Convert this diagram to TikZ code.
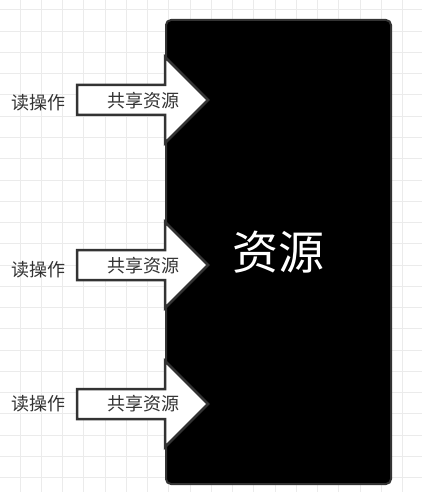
\documentclass[tikz,border=0pt]{standalone}
\usepackage{fontspec}
\newfontfamily\cjk{Noto Sans CJK SC}
\usetikzlibrary{positioning}
\definecolor{gridgray}{HTML}{EBEBEB}
\definecolor{linegray}{HTML}{333333}

\begin{document}
\begin{tikzpicture}[x=1pt,y=-1pt,
        share arrow/.style={draw=linegray,line width=2.5pt,fill=white},
        share text/.style={font=\cjk\fontsize{18}{20}\selectfont,text=linegray,inner sep=0pt},
        ]
    \useasboundingbox (0,0) rectangle (422,492);

    % background grid
    \foreach \x in {-1.25,20,...,430}
        \draw[gridgray,line width=1pt] (\x,0) -- (\x,492);
    \foreach \y in {10,31.25,...,500}
        \draw[gridgray,line width=1pt] (0,\y) -- (422,\y);

    % the resource
    \node[draw=linegray,fill=black,line width=2pt,rounded corners=5pt,
          minimum width=225,minimum height=464,anchor=north west,
          text=white,font=\cjk\fontsize{46}{50}\selectfont] (res) at (165,19) {资源};

    % 1st read operation
    \begin{scope}[shift={(0,100)}]
        \draw[share arrow] (77,-15) -- (165,-15) -- (165,-43) -- (208,0)
            -- (165,43) -- (165,15) -- (77,15) -- cycle;
        \node[share text] (share1) at (143,1) {共享资源};
        \node[share text] (read1) at (38,3) {读操作};
    \end{scope}

    % 2nd read operation
    \begin{scope}[shift={(0,265)}]
        \draw[share arrow] (77,-15) -- (165,-15) -- (165,-43) -- (208,0)
            -- (165,43) -- (165,15) -- (77,15) -- cycle;
        \node[share text] (share2) at (143,1) {共享资源};
        \node[share text] (read2) at (38,5) {读操作};
    \end{scope}

    % 3rd read operation
    \begin{scope}[shift={(0,404)}]
        \draw[share arrow] (77,-15) -- (165,-15) -- (165,-43) -- (208,0)
            -- (165,43) -- (165,15) -- (77,15) -- cycle;
        \node[share text] (share3) at (143,0) {共享资源};
        \node[share text] (read3) at (38,0) {读操作};
    \end{scope}

\end{tikzpicture}
\end{document}
